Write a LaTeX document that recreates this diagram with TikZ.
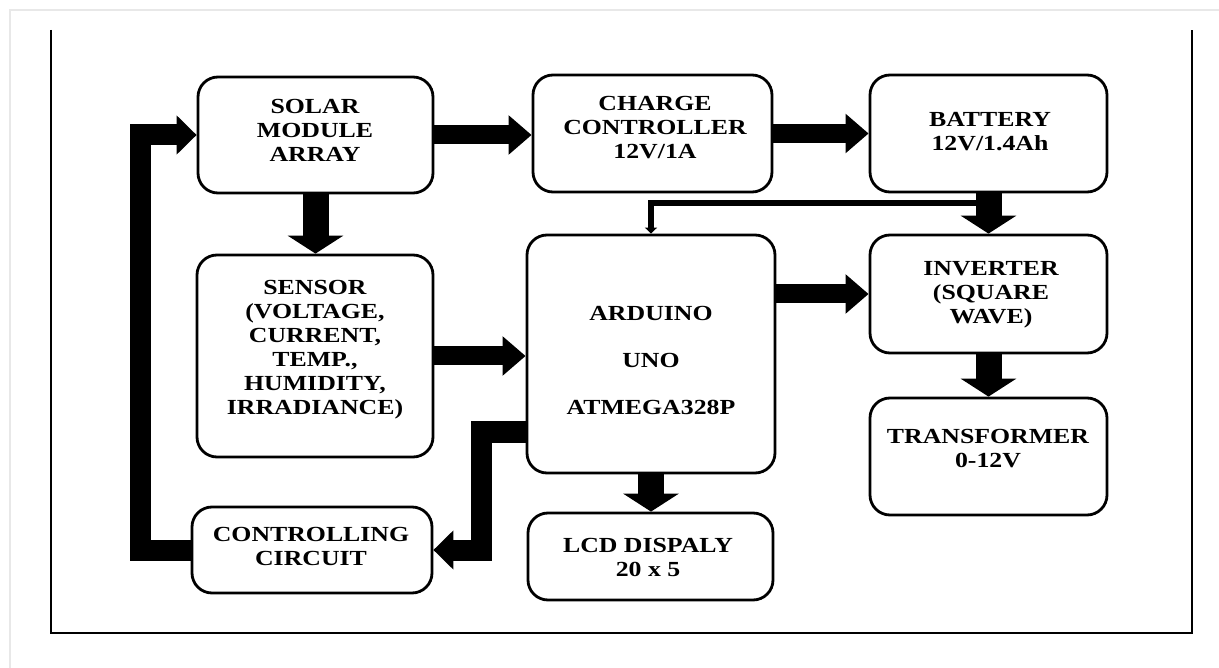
\documentclass[tikz,border=0pt]{standalone}
\usepackage{fontspec}
\newfontfamily\lblfont[FakeStretch=1.2]{Liberation Serif}
\usetikzlibrary{arrows.meta,calc}
\begin{document}
\begin{tikzpicture}[x=1pt,y=-1pt,
  box/.style={draw, line width=2.8pt, rounded corners=20pt, inner sep=0pt},
  lbl/.style={font=\lblfont\bfseries\fontsize{21.5}{24}\selectfont, align=center, inner sep=0pt},
  harrow/.style={line width=19pt, line cap=butt, -{Triangle[width=38pt,length=23pt]}},
  varrow/.style={line width=26pt, line cap=butt, -{Triangle[width=55pt,length=18pt]}},
  elbow/.style={line width=21pt, line cap=butt, line join=miter, -{Triangle[width=38pt,length=20pt]}},
  thinarrow/.style={line width=6pt, line join=miter, -{Triangle[width=12pt,length=6pt]}},
  frameline/.style={line width=2.5pt},
  shadowline/.style={gray!18, line width=1.5pt}
]
\useasboundingbox (0,0) rectangle (1219,668);
\fill[white] (0,0) rectangle (1219,668);
\draw[shadowline] (10,668) -- (10,10) -- (1219,10);
\draw[frameline] (51,30) -- (51,633) -- (1192,633) -- (1192,30);

% boxes
\node[box, minimum width=235pt, minimum height=116pt] (solar) at (315.5,135) {};
\node[box, minimum width=239pt, minimum height=117pt] (charge) at (652.5,133.5) {};
\node[box, minimum width=237pt, minimum height=117pt] (bat) at (988.5,133.5) {};
\node[box, minimum width=236pt, minimum height=202pt] (sensor) at (315,356) {};
\node[box, minimum width=248pt, minimum height=238pt] (ard) at (651,354) {};
\node[box, minimum width=237pt, minimum height=118pt] (inv) at (988.5,294) {};
\node[box, minimum width=237pt, minimum height=117pt] (trans) at (988.5,456.5) {};
\node[box, minimum width=240pt, minimum height=86pt] (ctrl) at (312,550) {};
\node[box, minimum width=245pt, minimum height=87pt] (lcd) at (650.5,556.5) {};

% labels
\node[lbl] (solar-t) at (315,130) {SOLAR\\MODULE\\ARRAY};
\node[lbl] (charge-t) at (655,128) {CHARGE\\CONTROLLER\\12V/1A};
\node[lbl] (bat-t) at (990,132) {BATTERY\\12V/1.4Ah};
\node[lbl] (sensor-t) at (315,350) {SENSOR\\(VOLTAGE,\\CURRENT,\\TEMP.,\\HUMIDITY,\\IRRADIANCE)};
\node[lbl] (ard-t) at (651,360) {ARDUINO\\[23pt]UNO\\[23pt]ATMEGA328P};
\node[lbl] (inv-t) at (991,295) {INVERTER\\(SQUARE\\WAVE)};
\node[lbl] (trans-t) at (988,449) {TRANSFORMER\\0-12V};
\node[lbl] (ctrl-t) at (311,546) {CONTROLLING\\CIRCUIT};
\node[lbl] (lcd-t) at (648,557) {LCD DISPALY\\20 x 5};

% thin feedback line from battery output to Arduino
\draw[thinarrow] (bat.south |- 0,203) -| (ard.north);

% connectors
\draw[harrow] (solar.east) -- (solar.east -| charge.west);
\draw[harrow] (charge.east) -- (charge.east -| bat.west);
\draw[varrow] (solar.south) -- (solar.south |- sensor.north);
\draw[harrow] (sensor.east) -- (sensor.east -| ard.west);
\draw[harrow] (ard.east |- inv.west) -- (inv.west);
\draw[varrow] (bat.south) -- (inv.north);
\draw[varrow] (inv.south) -- (trans.north);
\draw[varrow] (ard.south) -- (ard.south |- lcd.north);
\draw[elbow] (ard.west |- 0,432) -| ([xshift=48pt]ctrl.east) -- (ctrl.east);
\draw[elbow] (ctrl.west) -| ([xshift=-56pt]solar.west) -- (solar.west);
\end{tikzpicture}
\end{document}
